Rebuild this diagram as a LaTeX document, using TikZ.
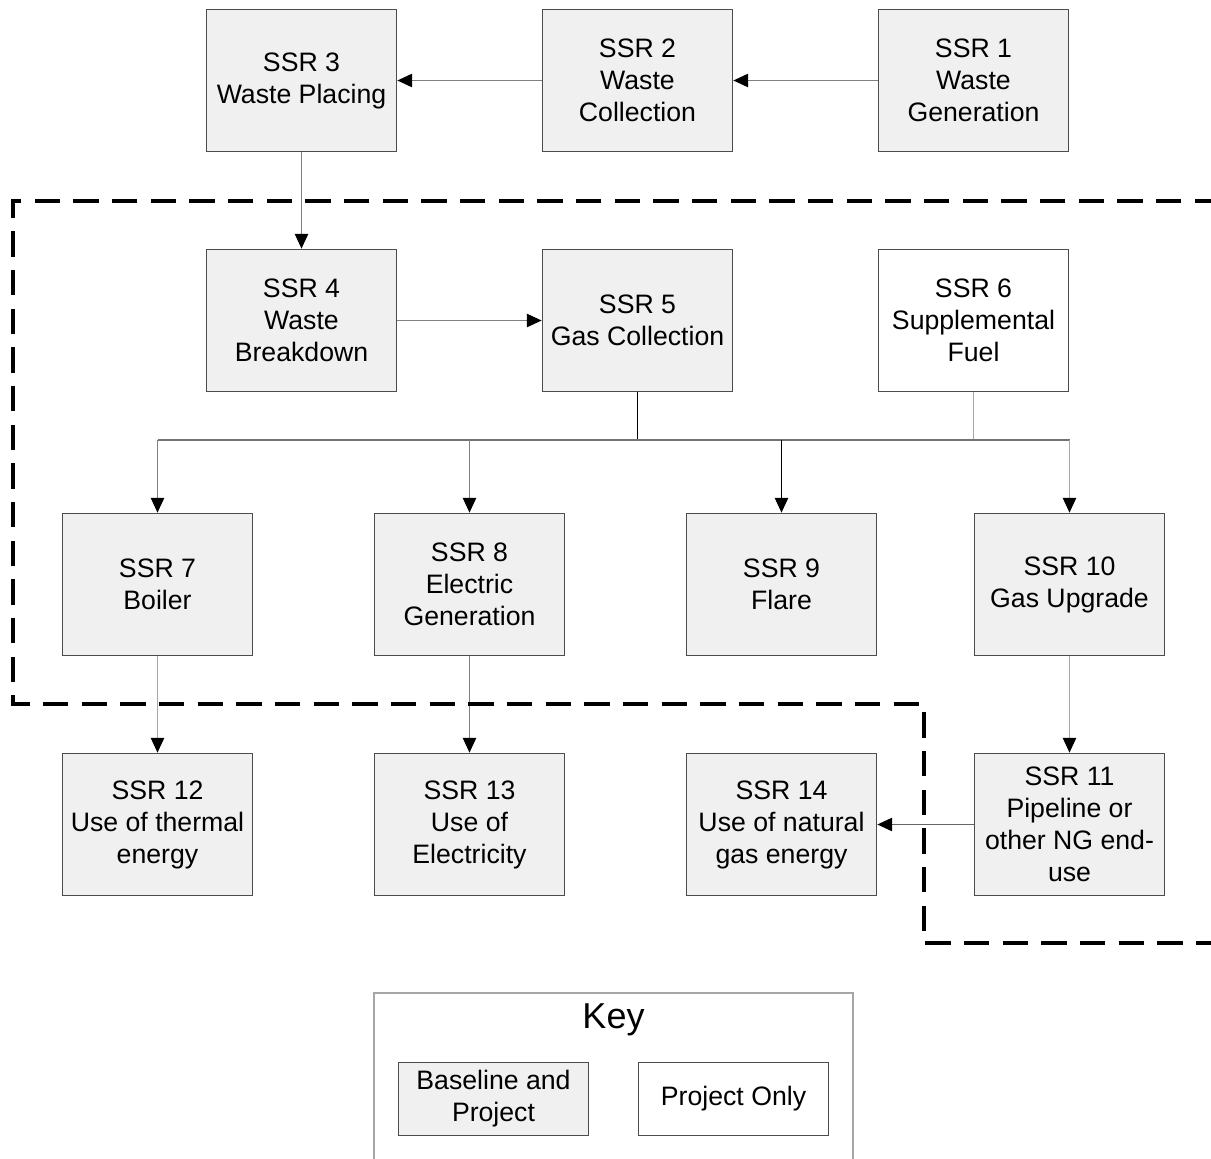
\documentclass[tikz,border=0pt]{standalone}
\usepackage{fontspec}
\setmainfont{Liberation Sans}
\usetikzlibrary{arrows.meta,positioning}
\tikzset{ >={Triangle[length=11pt,width=10pt,black]}, ssrbox/.style={ rectangle, draw=black!70, fill=gray!12, line width=0.8pt, minimum width=143pt, minimum height=107pt, inner sep=2pt, align=center, font=\fontsize{20}{24}\selectfont}, projbox/.style={ssrbox, fill=white}, pil/.style={ ->, draw=black!50, line width=0.8pt}, lin/.style={ draw=black!50, line width=0.8pt}, grens/.style={ line width=2.3pt, dash pattern=on 19pt off 10pt}}

\begin{document}
\begin{tikzpicture}[x=0.75pt,y=-0.75pt]
    \useasboundingbox (0,0) rectangle (1211,1158);
    %top row
    \node[ssrbox] (ssr3) at (301.5,80.5) {SSR 3\\Waste Placing};
    \node[ssrbox] (ssr2) at (637.5,80.5) {SSR 2\\Waste\\Collection};
    \node[ssrbox] (ssr1) at (973.5,80.5) {SSR 1\\Waste\\Generation};
    %second row
    \node[ssrbox] (ssr4) at (301.5,320.5) {SSR 4\\Waste\\Breakdown};
    \node[ssrbox] (ssr5) at (637.5,320.5) {SSR 5\\Gas Collection};
    \node[projbox] (ssr6) at (973.5,320.5) {SSR 6\\Supplemental\\Fuel};
    %third row
    \node[ssrbox] (ssr7) at (157.5,584.5) {SSR 7\\Boiler};
    \node[ssrbox] (ssr8) at (469.5,584.5) {SSR 8\\Electric\\Generation};
    \node[ssrbox] (ssr9) at (781.5,584.5) {SSR 9\\Flare};
    \node[ssrbox] (ssr10) at (1069.5,584.5) {SSR 10\\Gas Upgrade};
    %bottom row
    \node[ssrbox] (ssr12) at (157.5,824.5) {SSR 12\\Use of thermal\\energy};
    \node[ssrbox] (ssr13) at (469.5,824.5) {SSR 13\\Use of\\Electricity};
    \node[ssrbox] (ssr14) at (781.5,824.5) {SSR 14\\Use of natural\\gas energy};
    \node[ssrbox] (ssr11) at (1069.5,824.5) {SSR 11\\Pipeline or\\other NG end-\\use};
    \coordinate (bus) at (0,440);
    %connections
    \draw[pil] (ssr1) -- (ssr2);
    \draw[pil] (ssr2) -- (ssr3);
    \draw[pil] (ssr3) -- (ssr4);
    \draw[pil] (ssr4) -- (ssr5);
    \draw[lin, draw=black] (ssr5) -- (ssr5 |- bus);
    \draw[lin, draw=black!35] (ssr6) -- (ssr6 |- bus);
    \draw[lin, draw=black!55] (ssr7 |- bus) -- (ssr10 |- bus);
    \draw[pil] (ssr7 |- bus) -- (ssr7);
    \draw[pil] (ssr8 |- bus) -- (ssr8);
    \draw[pil, draw=black] (ssr9 |- bus) -- (ssr9);
    \draw[pil, draw=black!35] (ssr10 |- bus) -- (ssr10);
    \draw[pil, draw=black!35] (ssr7) -- (ssr12);
    \draw[pil] (ssr8) -- (ssr13);
    \draw[pil, draw=black!35] (ssr10) -- (ssr11);
    \draw[pil, draw=black!60] (ssr11) -- (ssr14);
    %project boundary
    \draw[grens] (1220,201) -- (13,201) -- (13,704) -- (924,704) -- (924,943) -- (1220,943);
    %key
    \draw[draw=black!35, line width=0.8pt] (374,1170) |- (853,993) -- (853,1170);
    \node[font=\fontsize{27}{30}\selectfont] (key) at (613.5,1020) {Key};
    \node[ssrbox, minimum width=142pt, minimum height=55pt] (keybase) at (493.5,1099) {Baseline and\\Project};
    \node[projbox, minimum width=142pt, minimum height=55pt] (keyproj) at (733.5,1099) {Project Only};
\end{tikzpicture}
\end{document}
